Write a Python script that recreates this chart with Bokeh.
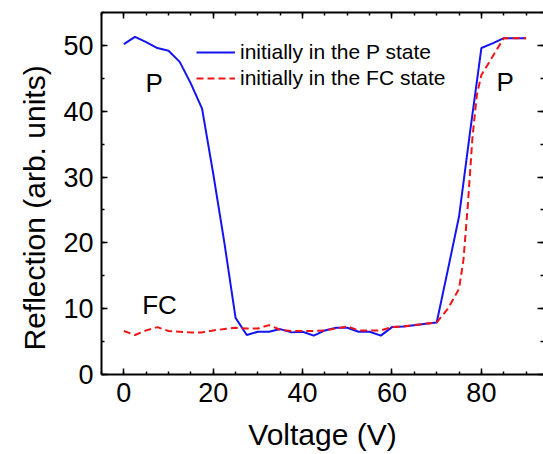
from bokeh.plotting import figure
from bokeh.models import (Range1d, SingleIntervalTicker, LinearAxis, Legend,
                          LegendItem, Label, Title)
from bokeh.embed import file_html
from bokeh.resources import INLINE

# ---------------- data ----------------
voltage_p = [0, 2.5, 5, 7.5, 10, 12.5, 15, 17.5, 20, 22.5, 25, 27.5, 30, 32.5,
             35, 37.5, 40, 42.5, 45, 47.5, 50, 52.5, 55, 57.5, 60, 62.5, 65,
             67.5, 70, 72.5, 75, 77.5, 80, 82.5, 85, 87.5, 90]
refl_p = [50.2, 51.3, 50.5, 49.6, 49.2, 47.5, 44.2, 40.4, 30.5, 20.0, 8.6, 6.0,
          6.5, 6.5, 6.9, 6.4, 6.5, 5.9, 6.7, 7.1, 7.1, 6.5, 6.5, 5.9, 7.2, 7.3,
          7.5, 7.7, 7.9, 15.9, 24.0, 37.0, 49.6, 50.3, 51.1, 51.1, 51.1]

voltage_fc = [0, 2.5, 5, 7.5, 10, 12.5, 15, 17.5, 20, 22.5, 25, 27.5, 30, 32.5,
              35, 37.5, 40, 42.5, 45, 47.5, 50, 52.5, 55, 57.5, 60, 62.5, 65,
              67.5, 70, 72.5, 75, 76, 77, 78, 79, 80, 85, 87.5, 90]
refl_fc = [6.6, 6.0, 6.7, 7.2, 6.6, 6.5, 6.4, 6.4, 6.7, 6.9, 7.1, 7.0, 7.0, 7.5,
           6.8, 6.6, 6.6, 6.6, 6.7, 7.0, 7.3, 6.7, 6.7, 6.7, 7.2, 7.3, 7.5, 7.7,
           7.9, 10.0, 13.0, 17.5, 26.0, 36.0, 42.5, 45.5, 51.1, 51.1, 51.1]

series_labels = ["initially in the P state", "initially in the FC state"]
x_title = "Voltage (V)"
y_title = "Reflection (arb. units)"

FONT = "Liberation Sans"
BLUE = "#1414f0"
RED = "#f01414"

p = figure(width=543, height=454, output_backend="svg", toolbar_location=None,
           x_range=Range1d(-5, 93.9), y_range=Range1d(0, 55),
           min_border_left=101, min_border_right=0, min_border_top=12,
           min_border_bottom=80)
p.outline_line_color = None
p.xgrid.visible = False
p.ygrid.visible = False
p.background_fill_color = "white"
p.border_fill_color = "white"

xt = SingleIntervalTicker(interval=20, num_minor_ticks=4)
yt = SingleIntervalTicker(interval=10, num_minor_ticks=2)


def style(ax, labels=True):
    ax.axis_line_width = 2
    ax.axis_line_color = "black"
    ax.major_tick_in = 6
    ax.major_tick_out = 0
    ax.minor_tick_in = 3
    ax.minor_tick_out = 0
    ax.major_tick_line_width = 1.5
    ax.minor_tick_line_width = 1.5
    ax.major_tick_line_color = "black"
    ax.minor_tick_line_color = "black"
    if labels:
        ax.major_label_text_font = FONT
        ax.major_label_text_font_size = "27px"
        ax.major_label_text_color = "black"
        ax.major_label_standoff = 8
    else:
        ax.major_label_text_alpha = 0
        ax.major_label_text_font_size = "1px"
        ax.major_label_standoff = 0


p.xaxis[0].ticker = xt
p.yaxis[0].ticker = yt
style(p.xaxis[0])
style(p.yaxis[0])
p.xaxis[0].axis_label = x_title
p.xaxis[0].axis_label_text_font = FONT
p.xaxis[0].axis_label_text_font_size = "30px"
p.xaxis[0].axis_label_text_font_style = "normal"
p.xaxis[0].axis_label_text_color = "black"
p.xaxis[0].axis_label_standoff = 13

top = LinearAxis(ticker=SingleIntervalTicker(interval=20, num_minor_ticks=4))
style(top, labels=False)
p.add_layout(top, "above")
right = LinearAxis(ticker=SingleIntervalTicker(interval=10, num_minor_ticks=2))
style(right, labels=False)
right.axis_line_color = None
p.add_layout(right, "right")

r1 = p.line(voltage_p, refl_p, line_color=BLUE, line_width=2)
r2 = p.line(voltage_fc, refl_fc, line_color=RED, line_width=2, line_dash="7 4")

legend = Legend(items=[LegendItem(label=series_labels[0], renderers=[r1]),
                       LegendItem(label=series_labels[1], renderers=[r2])],
                location=(95, 283), border_line_color=None,
                background_fill_alpha=0, padding=0, margin=0, spacing=0,
                glyph_width=39, glyph_height=26, label_height=26,
                label_standoff=5, label_text_font=FONT,
                label_text_font_size="21px", label_text_color="black")
p.add_layout(legend)

for tx, ty, tt in [(4.85, 44.3, "P"), (83.4, 44.4, "P"), (4.1, 10.5, "FC")]:
    p.add_layout(Label(x=tx, y=ty, text=tt, text_font=FONT,
                       text_font_size="26px", text_baseline="alphabetic",
                       text_color="black"))

p.add_layout(Title(text=y_title, align="left", offset=24, standoff=20,
                   text_font=FONT, text_font_size="30px",
                   text_font_style="normal", text_color="black"), "left")

open("out.html", "w").write(file_html(p, INLINE))
